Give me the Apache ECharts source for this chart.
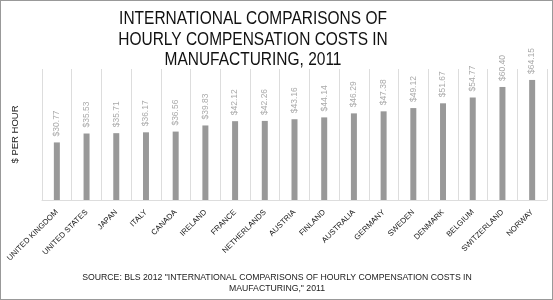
<!DOCTYPE html>
<html>
<head>
<meta charset="utf-8">
<script src="https://cdn.jsdelivr.net/npm/echarts@6/dist/echarts.min.js"></script>
<style>
  html, body { margin: 0; padding: 0; background: #fff; }
  #chart { width: 553px; height: 300px; box-sizing: border-box; border: 1px solid #999; }
</style>
</head>
<body>
<div id="chart"></div>
<script>
// data
const countries = ['UNITED KINGDOM', 'UNITED STATES', 'JAPAN', 'ITALY', 'CANADA', 'IRELAND', 'FRANCE',
  'NETHERLANDS', 'AUSTRIA', 'FINLAND', 'AUSTRALIA', 'GERMANY', 'SWEDEN', 'DENMARK', 'BELGIUM',
  'SWITZERLAND', 'NORWAY']
const hourlyCost = [30.77, 35.53, 35.71, 36.17, 36.56, 39.83, 42.12, 42.26, 43.16, 44.14, 46.29,
  47.38, 49.12, 51.67, 54.77, 60.40, 64.15]
const titleLines = ['INTERNATIONAL COMPARISONS OF', 'HOURLY COMPENSATION COSTS IN', 'MANUFACTURING, 2011']
const sourceLines = ['SOURCE: BLS 2012 "INTERNATIONAL COMPARISONS OF HOURLY COMPENSATION COSTS IN',
  'MAUFACTURING," 2011']

const chart = echarts.init(document.getElementById('chart'))
const font = 'Liberation Sans, Arial, sans-serif'

chart.setOption({
  animation: false,
  textStyle: { fontFamily: font },
  graphic: [
    {
      // title is a bit narrow in the original, squeeze it
      type: 'text',
      x: 252,
      y: 8,
      scaleX: 0.86,
      style: {
        text: titleLines.join('\n'),
        fontSize: 18,
        lineHeight: 20.5,
        fill: '#111',
        align: 'center',
        fontFamily: font
      }
    },
    {
      type: 'text',
      x: 276,
      y: 271.5,
      style: {
        text: sourceLines.join('\n'),
        fontSize: 8.7,
        lineHeight: 10.5,
        fill: '#222',
        align: 'center',
        fontFamily: font
      }
    }
  ],
  grid: {
    left: 41,
    right: 5,
    top: 68,
    bottom: 99
  },
  xAxis: {
    type: 'category',
    data: countries,
    axisLine: { lineStyle: { color: '#ddd' } },
    axisTick: { show: false },
    splitLine: { show: true, lineStyle: { color: '#ddd', width: 1 } },
    axisLabel: {
      interval: 0,
      rotate: 45,
      fontSize: 7.8,
      color: '#222',
      margin: 11
    }
  },
  yAxis: {
    type: 'value',
    min: 0,
    max: 70,
    name: '$ PER HOUR',
    nameLocation: 'middle',
    nameGap: 22,
    nameTextStyle: { fontSize: 9.5, color: '#222' },
    axisLine: { show: false },
    axisTick: { show: false },
    axisLabel: { show: false },
    splitLine: { show: false }
  },
  series: [{
    type: 'bar',
    data: hourlyCost,
    barWidth: 6,
    itemStyle: { color: '#999' },
    label: {
      show: true,
      position: 'top',
      rotate: 90,
      align: 'left',
      verticalAlign: 'middle',
      distance: 6,
      fontSize: 8.5,
      color: '#aaa',
      formatter: p => '$' + p.value.toFixed(2)
    }
  }]
})
</script>
</body>
</html>
